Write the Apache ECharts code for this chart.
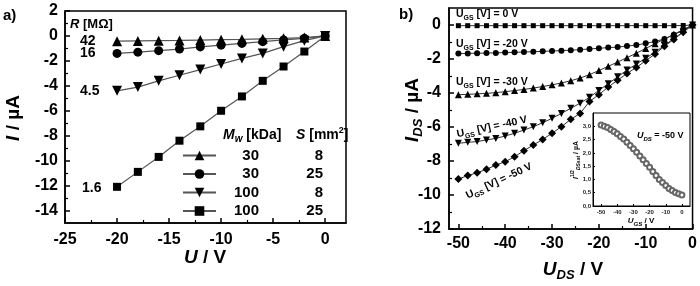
<!DOCTYPE html>
<html>
<head>
<meta charset="utf-8">
<script src="https://cdn.jsdelivr.net/npm/echarts@6/dist/echarts.min.js"></script>
<style>
html,body{margin:0;padding:0;background:#fff}
#chart{width:700px;height:286px}
</style>
</head>
<body>
<div id="chart"></div>
<script>
var FONT='"Liberation Sans", Arial, sans-serif';

// panel a) : I-U for four films
var uA=[-20,-18,-16,-14,-12,-10,-8,-6,-4,-2,0];
var iR42=[-0.42,-0.40,-0.38,-0.36,-0.33,-0.30,-0.27,-0.23,-0.19,-0.13,0];
var iR16=[-1.40,-1.30,-1.18,-1.05,-0.88,-0.74,-0.60,-0.46,-0.32,-0.19,0];
var iR45=[-4.40,-4.10,-3.60,-3.15,-2.70,-2.25,-1.80,-1.40,-0.86,-0.38,0];
var iR16b=[-12.1,-10.9,-9.7,-8.4,-7.25,-6.0,-4.85,-3.6,-2.45,-1.25,0];
var legMw=['30','30','100','100'];
var legS=['8','25','8','25'];
var aXTicks=[-25,-20,-15,-10,-5,0];
var aXMinor=[-22.5,-17.5,-12.5,-7.5,-2.5];
var aYTicks=[2,0,-2,-4,-6,-8,-10,-12,-14];
var aYMinor=[1,-1,-3,-5,-7,-9,-11,-13];

// panel b) : output characteristics
var uDS=[-50,-48,-46,-44,-42,-40,-38,-36,-34,-32,-30,-28,-26,-24,-22,-20,-18,-16,-14,-12,-10,-8,-6,-4,-2,0];
var iGS0=[-0.04,-0.04,-0.04,-0.04,-0.04,-0.04,-0.04,-0.04,-0.04,-0.04,-0.04,-0.04,-0.04,-0.04,-0.04,-0.04,-0.04,-0.04,-0.04,-0.04,-0.04,-0.04,-0.04,-0.04,-0.03,0];
var iGS20=[-1.68,-1.67,-1.66,-1.65,-1.64,-1.62,-1.61,-1.59,-1.57,-1.55,-1.53,-1.51,-1.48,-1.45,-1.41,-1.37,-1.33,-1.30,-1.24,-1.18,-1.08,-0.97,-0.82,-0.58,-0.30,0];
var iGS30=[-4.10,-4.08,-4.05,-4.02,-3.98,-3.92,-3.86,-3.79,-3.71,-3.62,-3.52,-3.41,-3.28,-3.12,-2.92,-2.68,-2.43,-2.18,-1.92,-1.66,-1.38,-1.10,-0.82,-0.55,-0.27,0];
var iGS40=[-6.96,-6.90,-6.86,-6.76,-6.67,-6.53,-6.37,-6.18,-5.98,-5.75,-5.49,-5.20,-4.90,-4.60,-4.25,-3.85,-3.45,-3.05,-2.65,-2.30,-1.95,-1.60,-1.20,-0.80,-0.40,0];
var iGS50=[-9.06,-8.86,-8.69,-8.49,-8.24,-8.04,-7.75,-7.39,-7.06,-6.73,-6.37,-5.98,-5.55,-5.20,-4.50,-4.10,-3.65,-3.25,-2.85,-2.50,-2.10,-1.70,-1.25,-0.85,-0.42,0];
var bXTicks=[-50,-40,-30,-20,-10,0];
var bXMinor=[-45,-35,-25,-15,-5];
var bYTicks=[0,-2,-4,-6,-8,-10,-12];
var bYMinor=[-1,-3,-5,-7,-9,-11];

// inset: sqrt(I_DSsat) vs U_GS
var uGS=[-50,-48,-46,-44,-42,-40,-38,-36,-34,-32,-30,-28,-26,-24,-22,-20,-18,-16,-14,-12,-10,-8,-6,-4,-2,0];
var sqrtI=[3.05,3.00,2.95,2.88,2.80,2.72,2.62,2.52,2.40,2.28,2.15,2.02,1.88,1.74,1.60,1.46,1.30,1.15,1.00,0.88,0.77,0.66,0.58,0.51,0.46,0.41];
var insXTicks=[-50,-40,-30,-20,-10,0];
var insYTicks=[0,0.5,1,1.5,2,2.5,3];

function pairs(x,y){return x.map(function(v,i){return [v,y[i]];});}

var tickLabel={fontSize:16,fontWeight:'bold',color:'#000',fontFamily:FONT};
function mainAxis(grid,pos,min,max,ticks,margin){
  return {type:'value',gridIndex:grid,position:pos,min:min,max:max,
    axisLine:{show:true,onZero:false,lineStyle:{color:'#000',width:1.5}},
    axisTick:{show:true,inside:true,length:5,customValues:ticks,lineStyle:{color:'#000',width:1.5}},
    axisLabel:Object.assign({customValues:ticks,margin:margin},tickLabel),
    splitLine:{show:false}};
}
function minorAxis(grid,pos,min,max,ticks){
  return {type:'value',gridIndex:grid,position:pos,min:min,max:max,
    axisLine:{show:false,onZero:false},
    axisTick:{show:true,inside:true,length:3,customValues:ticks,lineStyle:{color:'#000',width:1.2}},
    axisLabel:{show:false},splitLine:{show:false}};
}

var downTri='path://M0,0 L10,0 L5,9 Z';
function txt(x,y,text,rich,size,opts){
  opts=opts||{};
  return {type:'text',x:x,y:y,rotation:opts.rot||0,z:100,
    style:{text:text,rich:rich,font:'bold '+size+'px '+FONT,fill:'#000',
      align:opts.align||'left',textAlign:opts.align||'left',
      verticalAlign:'middle',textVerticalAlign:'middle'}};
}
function richSet(size,subSize){
  return {
    n:{fontFamily:FONT,fontWeight:'bold',fontSize:size,lineHeight:size+4,fill:'#000',verticalAlign:'middle'},
    i:{fontFamily:FONT,fontWeight:'bold',fontStyle:'italic',fontSize:size,lineHeight:size+4,fill:'#000',verticalAlign:'middle'},
    s:{fontFamily:FONT,fontWeight:'bold',fontSize:subSize,lineHeight:Math.round(subSize*0.75),fill:'#000',verticalAlign:'bottom'},
    si:{fontFamily:FONT,fontWeight:'bold',fontStyle:'italic',fontSize:subSize,lineHeight:Math.round(subSize*0.75),fill:'#000',verticalAlign:'bottom'},
    sup:{fontFamily:FONT,fontWeight:'bold',fontSize:subSize,lineHeight:Math.round(subSize*0.75),fill:'#000',verticalAlign:'top'}
  };
}

var chart=echarts.init(document.getElementById('chart'));
var lineA={color:'#555',width:1.2};
var lineB={color:'#333',width:1};
var option={
  animation:false,
  backgroundColor:'#fff',
  grid:[
    {left:65,top:11,width:281,height:212,show:true,borderColor:'#000',borderWidth:1.5},
    {left:449,top:8,width:249,height:221,show:true,borderColor:'#000',borderWidth:1.5},
    {left:593,top:113,width:97,height:93,show:true,borderColor:'#000',borderWidth:1,backgroundColor:'#fff'}
  ],
  xAxis:[
    mainAxis(0,'bottom',-25,2,aXTicks,9),
    minorAxis(0,'bottom',-25,2,aXMinor),
    mainAxis(1,'bottom',-52,0,bXTicks,7),
    minorAxis(1,'bottom',-52,0,bXMinor),
    {type:'value',gridIndex:2,position:'bottom',min:-55,max:5,
      axisLine:{show:true,onZero:false,lineStyle:{color:'#000',width:1}},
      axisTick:{show:true,inside:true,length:2,customValues:insXTicks,lineStyle:{color:'#000'}},
      axisLabel:{customValues:insXTicks,margin:3,fontSize:6,fontWeight:'bold',color:'#222',fontFamily:FONT},
      splitLine:{show:false}}
  ],
  yAxis:[
    mainAxis(0,'left',-15,2,aYTicks,7),
    minorAxis(0,'left',-15,2,aYMinor),
    mainAxis(1,'left',-12,1,bYTicks,8),
    minorAxis(1,'left',-12,1,bYMinor),
    {type:'value',gridIndex:2,position:'left',min:0,max:3.5,
      axisLine:{show:true,onZero:false,lineStyle:{color:'#000',width:1}},
      axisTick:{show:true,inside:true,length:2,customValues:insYTicks,lineStyle:{color:'#000'}},
      axisLabel:{customValues:insYTicks,margin:2,fontSize:6,fontWeight:'bold',color:'#222',fontFamily:FONT,
        formatter:function(v){return v.toFixed(1).replace('.',',');}},
      splitLine:{show:false}}
  ],
  legend:{
    show:true,orient:'vertical',left:182,top:148,padding:0,itemWidth:33,itemHeight:12,itemGap:3.5,
    selectedMode:false,
    data:['a0','a1','a2','a3'],
    formatter:function(name){var k=+name.slice(1);return '{a|'+legMw[k]+'}{b|'+legS[k]+'}';},
    textStyle:{rich:{
      a:{width:38,align:'right',fontSize:15,fontWeight:'bold',fontFamily:FONT,color:'#000',lineHeight:12},
      b:{width:64,align:'right',fontSize:15,fontWeight:'bold',fontFamily:FONT,color:'#000',lineHeight:12}
    }}
  },
  series:[
    {name:'a0',type:'line',xAxisIndex:0,yAxisIndex:0,data:pairs(uA,iR42),symbol:'triangle',symbolSize:10,lineStyle:lineA,itemStyle:{color:'#000'}},
    {name:'a1',type:'line',xAxisIndex:0,yAxisIndex:0,data:pairs(uA,iR16),symbol:'circle',symbolSize:9,lineStyle:lineA,itemStyle:{color:'#000'}},
    {name:'a2',type:'line',xAxisIndex:0,yAxisIndex:0,data:pairs(uA,iR45),symbol:downTri,symbolSize:10,lineStyle:lineA,itemStyle:{color:'#000'}},
    {name:'a3',type:'line',xAxisIndex:0,yAxisIndex:0,data:pairs(uA,iR16b),symbol:'rect',symbolSize:8,lineStyle:lineA,itemStyle:{color:'#000'}},
    {name:'b0',type:'line',xAxisIndex:2,yAxisIndex:2,data:pairs(uDS,iGS0),symbol:'rect',symbolSize:5,lineStyle:lineB,itemStyle:{color:'#000'}},
    {name:'b20',type:'line',xAxisIndex:2,yAxisIndex:2,data:pairs(uDS,iGS20),symbol:'circle',symbolSize:6,lineStyle:lineB,itemStyle:{color:'#000'}},
    {name:'b30',type:'line',xAxisIndex:2,yAxisIndex:2,data:pairs(uDS,iGS30),symbol:'triangle',symbolSize:7,lineStyle:lineB,itemStyle:{color:'#000'}},
    {name:'b40',type:'line',xAxisIndex:2,yAxisIndex:2,data:pairs(uDS,iGS40),symbol:downTri,symbolSize:7,lineStyle:lineB,itemStyle:{color:'#000'}},
    {name:'b50',type:'line',xAxisIndex:2,yAxisIndex:2,data:pairs(uDS,iGS50),symbol:'diamond',symbolSize:8,lineStyle:lineB,itemStyle:{color:'#000'}},
    {name:'inset',type:'line',xAxisIndex:4,yAxisIndex:4,data:pairs(uGS,sqrtI),symbol:'emptyCircle',symbolSize:5,
      lineStyle:{width:0},itemStyle:{color:'#666',borderColor:'#666',borderWidth:1},z:5}
  ],
  graphic:[
    txt(3,16,'a)',null,15),
    txt(399,15,'b)',null,15),
    txt(14,118,'{i|I}{n| / µA}',richSet(19,13),19,{align:'center',rot:Math.PI/2}),
    txt(205,258,'{i|U}{n| / V}',richSet(19,13),19,{align:'center'}),
    txt(70,24,'{i|R}{n| [MΩ]}',richSet(13,9),13),
    txt(80,41,'42',null,14),
    txt(80,53,'16',null,14),
    txt(80,91,'4.5',null,14),
    txt(82,188,'1.6',null,14),
    txt(223,135,'{i|M}{si|w}{n| [kDa]}',richSet(14,10),14),
    txt(296,135,'{i|S}{n| [mm}{sup|2}{n|]}',richSet(14,9),14),
    txt(456,14,'{n|U}{s|GS}{n| [V] = 0 V}',richSet(10.5,7),10.5),
    txt(456,44,'{n|U}{s|GS}{n| [V] = -20 V}',richSet(10.5,7),10.5),
    txt(456,82,'{n|U}{s|GS}{n| [V] = -30 V}',richSet(10.5,7),10.5),
    txt(492,127,'{n|U}{s|GS}{n| [V] = -40 V}',richSet(10.5,7),10.5,{align:'center',rot:12*Math.PI/180}),
    txt(499,181,'{n|U}{s|GS}{n| [V] = -50 V}',richSet(10.5,7),10.5,{align:'center',rot:25*Math.PI/180}),
    txt(413,110,'{i|I}{si|DS}{n| / µA}',richSet(19,13),19,{align:'center',rot:Math.PI/2}),
    txt(573,270,'{i|U}{si|DS}{n| / V}',richSet(19,13),19,{align:'center'}),
    txt(637,136,'{i|U}{si|DS}{n| = -50 V}',richSet(9,6),9),
    txt(576,160,'{i|I}{sup|1/2}{si|DSsat}{n| / µA}',richSet(7,5),7,{align:'center',rot:Math.PI/2}),
    txt(641,221,'{i|U}{si|GS}{n| / V}',richSet(8,6),8,{align:'center'})
  ]
};
chart.setOption(option);
</script>
</body>
</html>
